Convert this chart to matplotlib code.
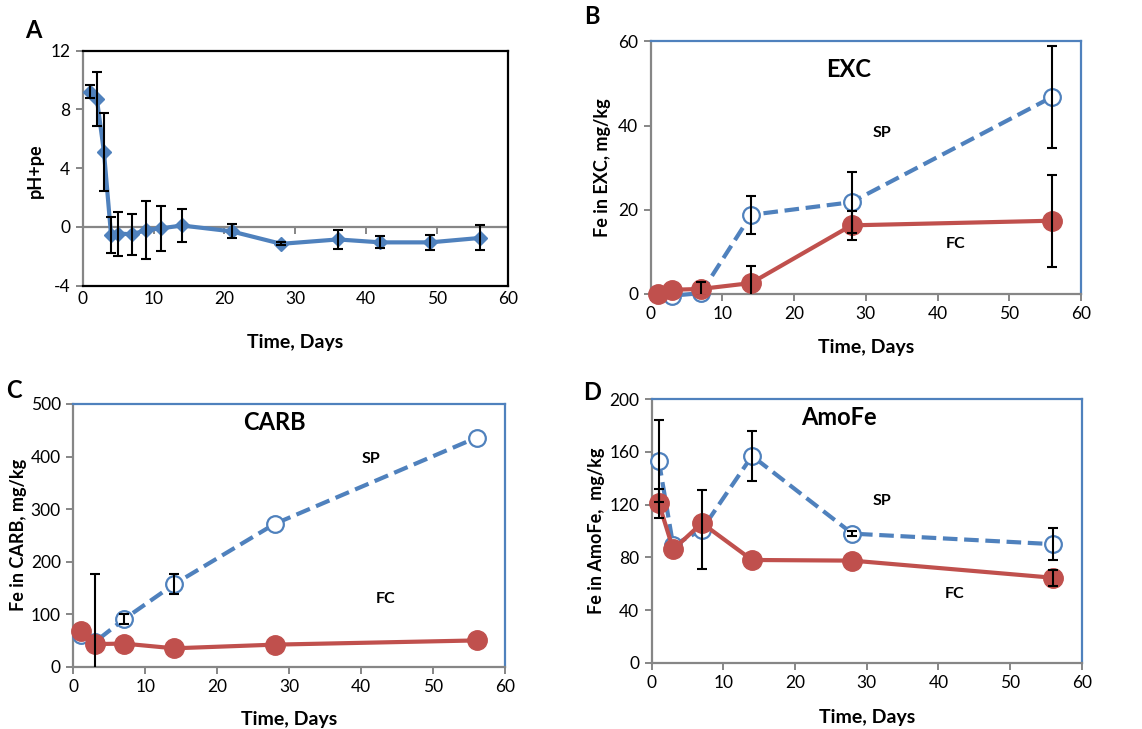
import matplotlib
matplotlib.use("Agg")
import matplotlib.pyplot as plt
import numpy as np

plt.rcParams['font.family'] = ['Lato', 'DejaVu Sans']
plt.rcParams['axes.unicode_minus'] = False

# ---------------- data ----------------
# Panel A: pH+pe over time
days_a = [1, 2, 3, 4, 5, 7, 9, 11, 14, 21, 28, 36, 42, 49, 56]
phpe = [9.2, 8.7, 5.1, -0.55, -0.45, -0.5, -0.2, -0.1, 0.1, -0.3, -1.15, -0.85, -1.05, -1.05, -0.75]
phpe_err = [0.45, 1.85, 2.65, 1.25, 1.5, 1.4, 1.95, 1.55, 1.1, 0.47, 0.1, 0.65, 0.4, 0.5, 0.85]

days = [1, 3, 7, 14, 28, 56]
# Panel B: EXC
exc_sp = [0, -0.4, 0.2, 18.8, 21.8, 46.8]
exc_sp_err = [0, 0, 0, 4.5, 7.2, 12.1]
exc_fc = [0, 1.0, 1.2, 2.6, 16.3, 17.4]
exc_fc_err = [0, 0, 1.7, 4.0, 3.5, 10.9]
# Panel C: CARB
carb_sp = [60, 47, 90, 157, 272, 436]
carb_sp_err = [0, 130, 9.5, 19, 0, 0]
carb_fc = [67, 43, 44, 35, 42, 50]
carb_fc_err = [0, 0, 0, 0, 0, 0]
# Panel D: AmoFe
amo_sp = [153, 89, 101, 157, 98, 90]
amo_sp_err = [31, 0, 30, 19, 2, 12]
amo_fc = [121, 86, 106, 78, 77.5, 64.5]
amo_fc_err = [11, 0, 0, 0, 0, 6]

xticks = [0, 10, 20, 30, 40, 50, 60]

BLUE = '#4F81BD'
RED = '#C0504D'
GRAY = '#868686'

W, H = 1142, 729
fig = plt.figure(figsize=(W / 100, H / 100), dpi=100)


def px_axes(l, r, t, b):
    return fig.add_axes([l / W, 1 - b / H, (r - l) / W, (b - t) / H])


def style_axes(ax, top_right_color, bottom_color=GRAY):
    ax.spines['left'].set_color(GRAY)
    ax.spines['left'].set_linewidth(1.6)
    ax.spines['bottom'].set_color(bottom_color)
    ax.spines['bottom'].set_linewidth(1.6)
    for s in ['top', 'right']:
        ax.spines[s].set_color(top_right_color)
        ax.spines[s].set_linewidth(1.6)
    ax.tick_params(axis='both', direction='out', length=5, width=1.4,
                   color=GRAY, labelsize=12.5, labelcolor='black', pad=4)
    ax.set_xlim(0, 60)
    ax.set_xticks(xticks)


def eb(ax, x, y, e):
    x = np.asarray(x, float)
    y = np.asarray(y, float)
    e = np.asarray(e, float)
    m = e > 0
    if not m.any():
        return
    ax.errorbar(x[m], y[m], yerr=e[m], fmt='none', ecolor='black', elinewidth=1.5,
                capsize=3.5, capthick=1.5, zorder=6, clip_on=True)


# ---------------- Panel A ----------------
axA = px_axes(82.7, 508, 50.7, 285.7)
style_axes(axA, 'black', bottom_color='black')
axA.set_ylim(-4, 12)
axA.set_yticks([-4, 0, 4, 8, 12])
axA.tick_params(axis='x', length=0)
axA.axhline(0, color=GRAY, lw=1.6, zorder=1)
sec = axA.secondary_xaxis((0 - (-4)) / 16)
sec.set_xticks(xticks)
sec.tick_params(axis='x', direction='out', length=5, width=1.4, color=GRAY,
                labelbottom=False)
sec.spines['bottom'].set_visible(False)
axA.plot(days_a, phpe, color=BLUE, lw=3, marker='D', ms=7, zorder=4)
eb(axA, days_a, phpe, phpe_err)
axA.set_xlabel('Time, Days', fontsize=14, fontweight='bold')
axA.xaxis.label.set_va('center')
axA.xaxis.set_label_coords(0.5, (285.7 - 342) / 235)
axA.set_ylabel('pH+pe', fontsize=13, fontweight='bold')
axA.yaxis.label.set_va('center')
axA.yaxis.set_label_coords(-0.112, 0.49)
fig.text(33 / W, 1 - 30 / H, 'A', fontsize=17, fontweight='bold', ha='center', va='center')


def fe_panel(ax, sp, sp_err, fc, fc_err, ylim, yticks, title, tpos, sppos, fcpos,
             ylabel, xlab_y, ylab_x, letter, lpos):
    style_axes(ax, BLUE)
    ax.set_ylim(*ylim)
    ax.set_yticks(yticks)
    ax.plot(days, sp, color=BLUE, lw=3, ls=(0, (3.5, 1.6)), marker='o', ms=12,
            mfc='white', mec=BLUE, mew=1.6, zorder=3, clip_on=False)
    ax.plot(days, fc, color=RED, lw=3, marker='o', ms=14, mfc=RED, mec=RED,
            zorder=4, clip_on=False)
    eb(ax, days, sp, sp_err)
    eb(ax, days, fc, fc_err)
    ax.text(*tpos, title, fontsize=17, fontweight='bold', ha='center', va='center')
    ax.text(*sppos, 'SP', fontsize=11.5, fontweight='bold', ha='center', va='center')
    ax.text(*fcpos, 'FC', fontsize=11.5, fontweight='bold', ha='center', va='center')
    ax.set_xlabel('Time, Days', fontsize=14, fontweight='bold')
    ax.xaxis.label.set_va('center')
    ax.xaxis.set_label_coords(0.5, xlab_y)
    ax.set_ylabel(ylabel, fontsize=13, fontweight='bold')
    ax.yaxis.label.set_va('center')
    ax.yaxis.set_label_coords(ylab_x, 0.5)
    fig.text(lpos[0] / W, 1 - lpos[1] / H, letter, fontsize=17, fontweight='bold',
             ha='center', va='center')


axB = px_axes(650.7, 1081, 41.3, 294)
fe_panel(axB, exc_sp, exc_sp_err, exc_fc, exc_fc_err, (0, 60), [0, 20, 40, 60],
         'EXC', (27.6, 53.4), (32.2, 38.2), (42.5, 11.9), 'Fe in EXC, mg/kg',
         (294 - 348) / 252.7, -0.111, 'B', (592, 17))

axC = px_axes(73.3, 505.3, 404, 666.7)
fe_panel(axC, carb_sp, carb_sp_err, carb_fc, carb_fc_err, (0, 500),
         [0, 100, 200, 300, 400, 500], 'CARB', (28.0, 464), (41.4, 395), (43.4, 129),
         'Fe in CARB, mg/kg', (666.7 - 720) / 262.7, -0.128, 'C', (14, 390))

axD = px_axes(651.7, 1081.7, 399.3, 662.7)
fe_panel(axD, amo_sp, amo_sp_err, amo_fc, amo_fc_err, (0, 200),
         [0, 40, 80, 120, 160, 200], 'AmoFe', (26.1, 186), (32.1, 123), (42.2, 52),
         'Fe in AmoFe,  mg/kg', (662.7 - 717) / 263.4, -0.128, 'D', (592, 393))

fig.savefig('out.png', dpi=100)
